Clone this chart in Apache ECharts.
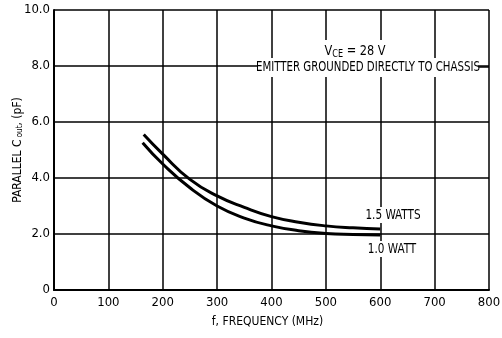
<!DOCTYPE html>
<html><head><meta charset="utf-8">
<script src="https://cdn.jsdelivr.net/npm/echarts@6/dist/echarts.min.js"></script>
<style>html,body{margin:0;padding:0;background:#fff}#c{width:502px;height:338px}</style>
</head><body><div id="c"></div>
<script>
const xTicks = [0,100,200,300,400,500,600,700,800];
const yTicks = ['0','2.0','4.0','6.0','8.0','10.0'];
const freq15 = [165,200,250,300,350,400,450,500,550,600];
const cap15  = [5.55,4.85,3.95,3.36,2.95,2.62,2.42,2.29,2.22,2.18];
const freq10 = [163,200,250,300,350,400,450,500,550,600];
const cap10  = [5.26,4.5,3.65,3.0,2.57,2.29,2.12,2.02,1.98,1.96];
const seriesNames = ['1.5 WATTS','1.0 WATT'];

const F = '"Liberation Sans Narrow", "DejaVu Sans Condensed", sans-serif';
const ink = '#000';
const chart = echarts.init(document.getElementById('c'));
chart.setOption({
  animation:false,
  backgroundColor:'#fff',
  grid:{left:54,right:13,top:10,bottom:48,containLabel:false,outerBoundsMode:'none'},
  xAxis:{type:'value',min:0,max:800,interval:100,
    name:'f, FREQUENCY (MHz)',nameLocation:'middle',nameGap:26,nameMoveOverlap:false,
    nameTextStyle:{fontFamily:F,fontSize:12,color:ink,padding:[0,8,0,0]},
    axisLine:{show:true,lineStyle:{color:ink,width:2}},
    axisTick:{show:false},
    axisLabel:{fontFamily:F,fontSize:13,color:ink,margin:6,
      formatter:v=>String(xTicks[xTicks.indexOf(v)])},
    splitLine:{show:true,lineStyle:{color:ink,width:1.5}}},
  yAxis:{type:'value',min:0,max:10,interval:2,
    name:'PARALLEL C\u2009{s|out}, (pF)',nameLocation:'middle',nameGap:30,nameMoveOverlap:false,
    nameTextStyle:{fontFamily:F,fontSize:12,color:ink,
      rich:{s:{fontFamily:F,fontSize:8,color:ink,verticalAlign:'bottom',padding:[4,0,0,0]}}},
    axisLine:{show:true,lineStyle:{color:ink,width:2}},
    axisTick:{show:false},
    axisLabel:{fontFamily:F,fontSize:13,color:ink,margin:4,
      formatter:v=>yTicks[Math.round(v/2)]},
    splitLine:{show:true,lineStyle:{color:ink,width:1.5}}},
  series:[
    {name:seriesNames[0],type:'line',smooth:true,symbol:'none',z:5,
     lineStyle:{color:ink,width:3},data:freq15.map((f,i)=>[f,cap15[i]])},
    {name:seriesNames[1],type:'line',smooth:true,symbol:'none',z:5,
     lineStyle:{color:ink,width:3},data:freq10.map((f,i)=>[f,cap10[i]])}
  ],
  graphic:{elements:[
    {type:'rect',shape:{x:258,y:58,width:220,height:19},style:{fill:'#fff'},z:100},
    {type:'rect',shape:{x:322,y:40,width:66,height:19},style:{fill:'#fff'},z:100},
    {type:'text',x:355,y:51,z:101,scaleX:0.9,style:{text:'{v|V}{s|CE}{v| = 28 V}',
      align:'center',verticalAlign:'middle',
      rich:{v:{fontFamily:F,fontSize:14,fill:ink},
            s:{fontFamily:F,fontSize:10,fill:ink,padding:[6,0,0,0]}}}},
    {type:'text',x:368,y:67,z:101,scaleX:0.84,style:{text:'EMITTER GROUNDED DIRECTLY TO CHASSIS',
      align:'center',verticalAlign:'middle',fontFamily:F,fontSize:13.5,fill:ink}},
    {type:'line',shape:{x1:479,y1:67,x2:489,y2:67},style:{stroke:ink,lineWidth:1.5},z:101},
    {type:'rect',shape:{x:364,y:207,width:58,height:16},style:{fill:'#fff'},z:100},
    {type:'text',x:393,y:215,z:101,scaleX:0.86,style:{text:seriesNames[0],align:'center',verticalAlign:'middle',
      fontFamily:F,fontSize:13.5,fill:ink}},
    {type:'rect',shape:{x:364,y:241,width:56,height:16},style:{fill:'#fff'},z:100},
    {type:'text',x:392,y:249,z:101,scaleX:0.86,style:{text:seriesNames[1],align:'center',verticalAlign:'middle',
      fontFamily:F,fontSize:13.5,fill:ink}}
  ]}
});
</script></body></html>
